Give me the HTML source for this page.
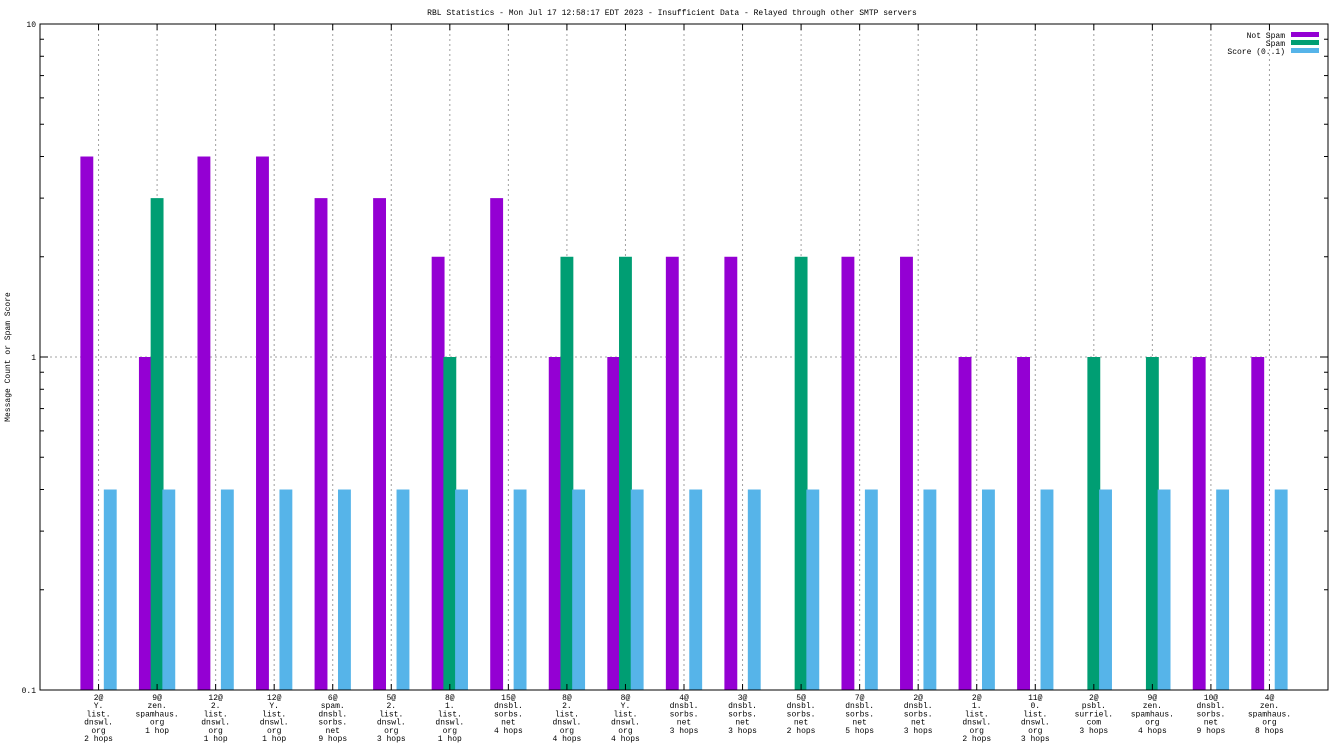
<!DOCTYPE html>
<html><head><meta charset="utf-8"><style>
body{margin:0;background:#fff;}
svg{display:block;font-family:"Liberation Mono","DejaVu Sans Mono",monospace;font-size:8px;}
</style></head><body>
<svg id="chart" width="1344" height="756" xmlns="http://www.w3.org/2000/svg">
<text x="672" y="15" text-anchor="middle">RBL Statistics - Mon Jul 17 12:58:17 EDT 2023 - Insufficient Data - Relayed through other SMTP servers</text>
<text transform="translate(10,357) rotate(-90)" text-anchor="middle">Message Count or Spam Score</text>
<g id="grid"></g><g id="bars"></g><g id="axes"></g>
<g>
<text x="1285" y="38" text-anchor="end">Not Spam</text>
<rect x="1291" y="32" width="28" height="5" fill="#9400d3"/>
<text x="1285" y="46" text-anchor="end">Spam</text>
<rect x="1291" y="40" width="28" height="5" fill="#009e73"/>
<text x="1285" y="54" text-anchor="end">Score (0..1)</text>
<rect x="1291" y="48" width="28" height="5" fill="#56b4e9"/>
</g>
</svg>
<script>
const categories=[
["2@","Y.","list.","dnswl.","org","2 hops"],["9@","zen.","spamhaus.","org","1 hop"],["12@","2.","list.","dnswl.","org","1 hop"],["12@","Y.","list.","dnswl.","org","1 hop"],["6@","spam.","dnsbl.","sorbs.","net","9 hops"],["5@","2.","list.","dnswl.","org","3 hops"],["8@","1.","list.","dnswl.","org","1 hop"],["15@","dnsbl.","sorbs.","net","4 hops"],["8@","2.","list.","dnswl.","org","4 hops"],["8@","Y.","list.","dnswl.","org","4 hops"],["4@","dnsbl.","sorbs.","net","3 hops"],["3@","dnsbl.","sorbs.","net","3 hops"],["5@","dnsbl.","sorbs.","net","2 hops"],["7@","dnsbl.","sorbs.","net","5 hops"],["2@","dnsbl.","sorbs.","net","3 hops"],["2@","1.","list.","dnswl.","org","2 hops"],["11@","0.","list.","dnswl.","org","3 hops"],["2@","psbl.","surriel.","com","3 hops"],["9@","zen.","spamhaus.","org","4 hops"],["10@","dnsbl.","sorbs.","net","9 hops"],["4@","zen.","spamhaus.","org","8 hops"]];
const notSpam=[4,1,4,4,3,3,2,3,1,1,2,2,0,2,2,1,1,0,0,1,1];
const spam=[0,3,0,0,0,0,1,0,2,2,0,0,2,0,0,0,0,1,1,0,0];
const score=[0.4,0.4,0.4,0.4,0.4,0.4,0.4,0.4,0.4,0.4,0.4,0.4,0.4,0.4,0.4,0.4,0.4,0.4,0.4,0.4,0.4];
const yTicks=[0.1,1,10];
const L=40,R=1328,T=24,B=690,NS="http://www.w3.org/2000/svg";
const xs=i=>L+(i+1)*(R-L)/(categories.length+1);
const ys=v=>B-(Math.log10(v)+1)*(B-T)/2;
function mk(p,tag,a){const e=document.createElementNS(NS,tag);for(const k in a)e.setAttribute(k,a[k]);document.getElementById(p).appendChild(e);return e;}
const step=(R-L)/(categories.length+1),bw=step*0.22;
categories.forEach((c,i)=>{
 const x=xs(i);
 let g=mk('grid','line',{x1:x,x2:x,y1:T,y2:B,stroke:'#a0a0a0','stroke-dasharray':'2,3'});
 
 
 let t=mk('axes','line',{x1:x,x2:x,y1:B,y2:B-6,stroke:'#000'});
 
 
 let t2=mk('axes','line',{x1:x,x2:x,y1:T,y2:T+6,stroke:'#000'});
 
 
 const tx=mk('axes','text',{x:x,y:B+10,'text-anchor':'middle'});
 
 
 c.forEach((s,j)=>{const ts=document.createElementNS(NS,'tspan');ts.setAttribute('x',x);ts.setAttribute('dy',j?8.2:0);ts.textContent=s;tx.appendChild(ts);});
 [[notSpam,'#9400d3',-1,'bar-not-spam'],[spam,'#009e73',0,'bar-spam'],[score,'#56b4e9',1,'bar-score']].forEach(([arr,col,off,nm])=>{
  const v=arr[i];if(v<=0)return;
  const y=ys(v);
  const r=mk('bars','rect',{x:x+off*step*0.2-bw/2,y:y,width:bw,height:B-y,fill:col});
  
  
 });
});
const h=mk('grid','line',{x1:L,x2:R,y1:ys(1),y2:ys(1),stroke:'#a0a0a0','stroke-dasharray':'2,3'});


yTicks.forEach(v=>{
 const y=ys(v);
 const t=mk('axes','text',{x:L-4,y:y+3,'text-anchor':'end'});
 t.textContent=v;
 
 
 [[L,L+8],[R,R-8]].forEach(([a,b])=>{const l=mk('axes','line',{x1:a,x2:b,y1:y,y2:y,stroke:'#000'});});
});
[0.1,1].forEach(d=>{for(let k=2;k<10;k++){const y=ys(d*k);[[L,L+4],[R,R-4]].forEach(([a,b])=>{const l=mk('axes','line',{x1:a,x2:b,y1:y,y2:y,stroke:'#000'});});}});
const fr=mk('axes','rect',{x:L,y:T,width:R-L,height:B-T,fill:'none',stroke:'#000','stroke-width':1});


</script>
</body></html>
